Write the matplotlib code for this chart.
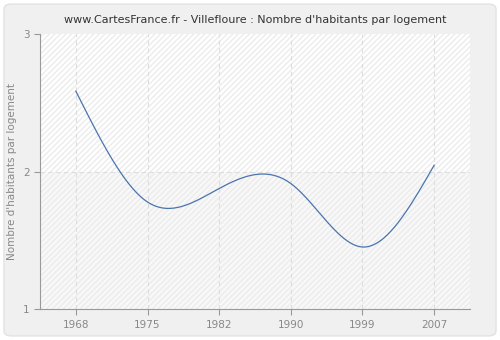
import numpy as np
import matplotlib
matplotlib.use("Agg")
import matplotlib.pyplot as plt
from matplotlib.patches import FancyBboxPatch, Rectangle

annees = ["1968", "1975", "1982", "1990", "1999", "2007"]
habitants_par_logement = [2.585, 1.78, 1.878, 1.914, 1.453, 2.047]
y_ticks = [1, 2, 3]


def spline_naturelle(x, y, xs):
    # spline cubique naturelle, pour lisser la courbe comme sur le site
    x = np.asarray(x, float)
    y = np.asarray(y, float)
    n = len(x)
    h = np.diff(x)
    A = np.zeros((n, n))
    b = np.zeros(n)
    A[0, 0] = 1
    A[-1, -1] = 1
    for i in range(1, n - 1):
        A[i, i - 1] = h[i - 1]
        A[i, i] = 2 * (h[i - 1] + h[i])
        A[i, i + 1] = h[i]
        b[i] = 3 * ((y[i + 1] - y[i]) / h[i] - (y[i] - y[i - 1]) / h[i - 1])
    c = np.linalg.solve(A, b)
    out = np.empty_like(xs)
    for k, xv in enumerate(xs):
        i = min(max(np.searchsorted(x, xv) - 1, 0), n - 2)
        dx = xv - x[i]
        bi = (y[i + 1] - y[i]) / h[i] - h[i] * (2 * c[i] + c[i + 1]) / 3
        di = (c[i + 1] - c[i]) / (3 * h[i])
        out[k] = y[i] + bi * dx + c[i] * dx ** 2 + di * dx ** 3
    return out


fig = plt.figure(figsize=(5, 3.4), dpi=100)
fig.patch.set_facecolor("white")
fond = FancyBboxPatch((0.008, 0.012), 0.984, 0.976, boxstyle="round,pad=0,rounding_size=0.015",
                      transform=fig.transFigure, facecolor="#f0f0f0", edgecolor="#e2e2e2", lw=1,
                      zorder=-10)
fig.patches.append(fond)

ax = fig.add_axes([0.08, 0.09, 0.86, 0.81])
ax.set_facecolor("white")

pos = np.arange(len(annees))
ax.set_xlim(-0.5, len(annees) - 0.5)
ax.set_ylim(1, 3)

# fond hachuré
ax.add_patch(Rectangle((-0.5, 1), 6, 1, facecolor="#f8f8f8", edgecolor="none", zorder=0))
ax.add_patch(Rectangle((-0.5, 1), 6, 2, facecolor="none", edgecolor="#ececec", hatch="//////",
                       lw=0, zorder=0.5))

for p in pos:
    ax.axvline(p, color="#dddddd", lw=0.8, ls=(0, (4, 3)), zorder=1)
ax.axhline(2, color="#dddddd", lw=0.8, ls=(0, (4, 3)), zorder=1)

xs = np.linspace(0, len(annees) - 1, 300)
ax.plot(xs, spline_naturelle(pos, habitants_par_logement, xs), color="#4a74ad", lw=0.9, zorder=3)

ax.set_xticks(pos)
ax.set_xticklabels(annees)
ax.set_yticks(y_ticks)
ax.set_yticklabels([str(v) for v in y_ticks])
ax.tick_params(colors="#999999", labelcolor="#888888", labelsize=7.5, length=4, width=0.8)
for s in ["top", "right"]:
    ax.spines[s].set_visible(False)
for s in ["left", "bottom"]:
    ax.spines[s].set_color("#999999")

ax.set_ylabel("Nombre d'habitants par logement", color="#888888", fontsize=7.5)
ax.set_title("www.CartesFrance.fr - Villefloure : Nombre d'habitants par logement",
             color="#333333", fontsize=8, pad=8)

fig.savefig("out.png", dpi=100, facecolor=fig.get_facecolor())
